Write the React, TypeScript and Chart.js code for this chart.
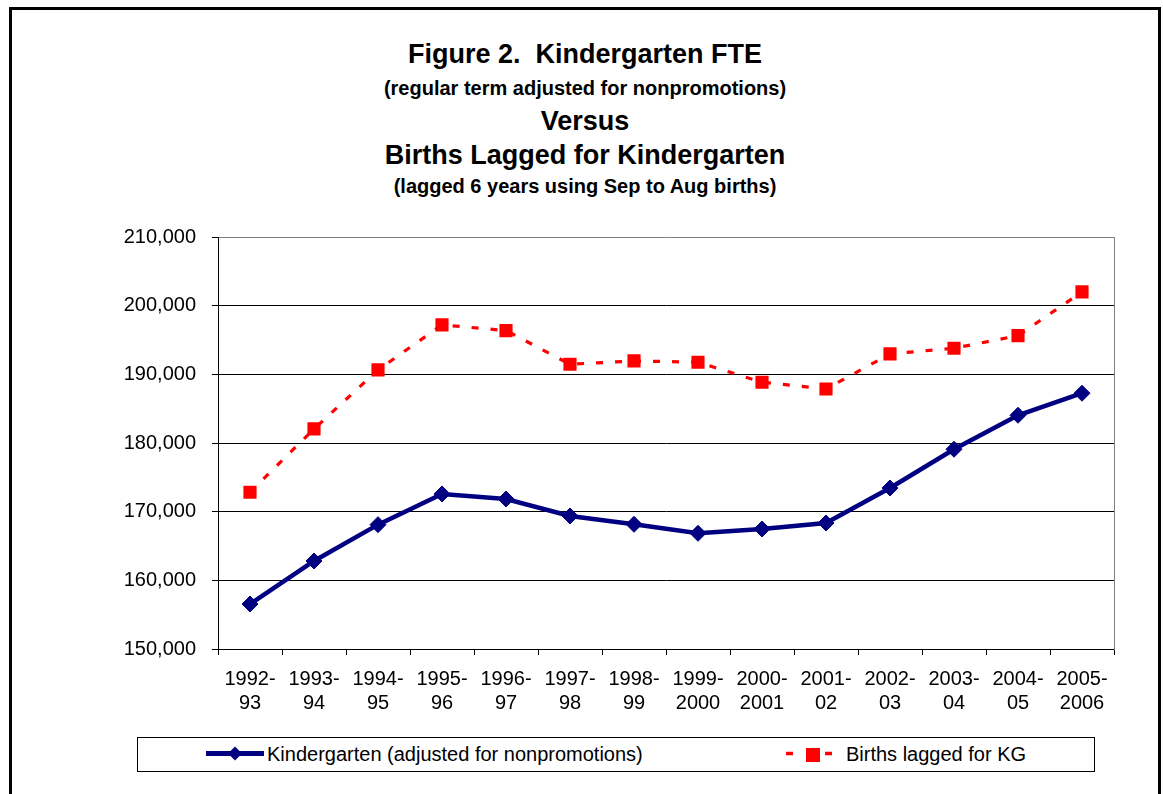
import React, { useEffect, useRef } from "react";
import { Chart, registerables } from "chart.js";

Chart.register(...registerables);

const FONT = "'Liberation Sans', Arial, Helvetica, sans-serif";

const titleLines = [
  "Figure 2.  Kindergarten FTE",
  "(regular term adjusted for nonpromotions)",
  "Versus",
  "Births Lagged for Kindergarten",
  "(lagged 6 years using Sep to Aug births)",
];

const categories = [
  ["1992-", "93"],
  ["1993-", "94"],
  ["1994-", "95"],
  ["1995-", "96"],
  ["1996-", "97"],
  ["1997-", "98"],
  ["1998-", "99"],
  ["1999-", "2000"],
  ["2000-", "2001"],
  ["2001-", "02"],
  ["2002-", "03"],
  ["2003-", "04"],
  ["2004-", "05"],
  ["2005-", "2006"],
];

const kindergarten = [
  156550, 162820, 168110, 172580, 171850, 169370, 168160, 166850, 167480,
  168350, 173450, 179090, 184040, 187250,
];

const births = [
  172830, 182050, 190640, 197200, 196370, 191470, 191950, 191760, 188850,
  187870, 192970, 193800, 195640, 202000,
];

const seriesNames = [
  "Kindergarten (adjusted for nonpromotions)",
  "Births lagged for KG",
];

const yMin = 150000;
const yMax = 210000;
const yStep = 10000;

const NAVY = "#000080";
const RED = "#FF0000";

export default function App() {
  const canvasRef = useRef<HTMLCanvasElement | null>(null);

  useEffect(() => {
    if (!canvasRef.current) return;
    const chart = new Chart(canvasRef.current, {
      type: "line",
      data: {
        labels: categories,
        datasets: [
          {
            label: seriesNames[0],
            data: kindergarten,
            borderColor: NAVY,
            backgroundColor: NAVY,
            borderWidth: 4.5,
            pointStyle: "rectRot",
            pointRadius: 8,
            pointBackgroundColor: NAVY,
            pointBorderColor: NAVY,
            pointBorderWidth: 1,
            tension: 0,
            fill: false,
          },
          {
            label: seriesNames[1],
            data: births,
            borderColor: RED,
            backgroundColor: RED,
            borderWidth: 3.2,
            borderDash: [7, 12],
            pointStyle: "rect",
            pointRadius: 9.3,
            pointBackgroundColor: RED,
            pointBorderColor: RED,
            pointBorderWidth: 0,
            tension: 0,
            fill: false,
          },
        ],
      },
      options: {
        responsive: false,
        animation: false,
        devicePixelRatio: 1,
        layout: { padding: { left: 0, top: 237, right: 49, bottom: 64 } },
        plugins: {
          legend: { display: false },
          title: { display: false },
          tooltip: { enabled: false },
        },
        scales: {
          x: {
            type: "category",
            offset: true,
            grid: {
              display: true,
              drawOnChartArea: false,
              drawTicks: true,
              tickLength: 6,
              color: "#000",
              offset: true,
            },
            border: { display: true, color: "#000", width: 1 },
            ticks: {
              font: { family: FONT, size: 20, lineHeight: 1.2 },
              color: "#000",
              padding: 12,
              maxRotation: 0,
              minRotation: 0,
              autoSkip: false,
            },
            afterFit: (s: any) => {
              s.height = 81;
            },
          },
          y: {
            min: yMin,
            max: yMax,
            ticks: {
              stepSize: yStep,
              font: { family: FONT, size: 20 },
              color: "#000",
              padding: 16,
              callback: (v: any) => Number(v).toLocaleString("en-US"),
            },
            grid: {
              color: (ctx: any) =>
                ctx.tick && ctx.tick.value === yMax ? "#808080" : "#000",
              tickColor: "#000",
              tickLength: 6,
              lineWidth: 1,
            },
            border: { display: true, color: "#000", width: 1 },
            afterFit: (s: any) => {
              s.width = 218;
            },
          },
          y2: {
            position: "right",
            display: true,
            min: 0,
            max: 1,
            ticks: { display: false },
            grid: { drawOnChartArea: false, drawTicks: false },
            border: { display: true, color: "#808080", width: 1 },
            afterFit: (s: any) => {
              s.width = 0;
            },
          },
        },
      },
    } as any);
    return () => chart.destroy();
  }, []);

  const titleStyles = [
    { size: 27, center: 54 },
    { size: 20, center: 88 },
    { size: 27, center: 121 },
    { size: 27, center: 155 },
    { size: 20, center: 186 },
  ];

  return (
    <div
      style={{
        position: "absolute",
        left: 0,
        top: 0,
        width: 1163,
        height: 794,
        overflow: "hidden",
        background: "#fff",
      }}
    >
      <div
        style={{
          position: "absolute",
          left: 9,
          top: 7,
          width: 1152,
          height: 800,
          boxSizing: "border-box",
          border: "3px solid #000",
        }}
      />
      {titleLines.map((t, i) => {
        const st = titleStyles[i];
        const lh = Math.round(st.size * 1.2);
        return (
          <div
            key={i}
            style={{
              position: "absolute",
              left: 9,
              width: 1152,
              top: st.center - lh / 2,
              height: lh,
              lineHeight: lh + "px",
              textAlign: "center",
              fontFamily: FONT,
              fontWeight: "bold",
              fontSize: st.size,
              color: "#000",
              whiteSpace: "pre",
            }}
          >
            {t}
          </div>
        );
      })}
      <canvas
        ref={canvasRef}
        width={1163}
        height={794}
        style={{
          position: "absolute",
          left: 0,
          top: 0,
          width: 1163,
          height: 794,
          display: "block",
        }}
      />
      <div
        style={{
          position: "absolute",
          left: 137,
          top: 737,
          width: 958,
          height: 35,
          boxSizing: "border-box",
          border: "1px solid #000",
          background: "#fff",
        }}
      />
      <svg
        style={{ position: "absolute", left: 200, top: 740 }}
        width={70}
        height={28}
      >
        <line x1={6} y1={13.5} x2={64} y2={13.5} stroke={NAVY} strokeWidth={5} />
        <polygon points="35,6.5 42,13.5 35,20.5 28,13.5" fill={NAVY} />
      </svg>
      <div
        style={{
          position: "absolute",
          left: 267,
          top: 742,
          lineHeight: "24px",
          fontFamily: FONT,
          fontSize: 20,
          color: "#000",
          whiteSpace: "pre",
        }}
      >
        {seriesNames[0]}
      </div>
      <svg
        style={{ position: "absolute", left: 780, top: 740 }}
        width={60}
        height={28}
      >
        <line x1={6} y1={13.5} x2={13} y2={13.5} stroke={RED} strokeWidth={3.5} />
        <rect x={26} y={8} width={14} height={14} fill={RED} />
        <line x1={45} y1={13.5} x2={52} y2={13.5} stroke={RED} strokeWidth={3.5} />
      </svg>
      <div
        style={{
          position: "absolute",
          left: 846,
          top: 742,
          lineHeight: "24px",
          fontFamily: FONT,
          fontSize: 20,
          color: "#000",
          whiteSpace: "pre",
        }}
      >
        {seriesNames[1]}
      </div>
    </div>
  );
}
